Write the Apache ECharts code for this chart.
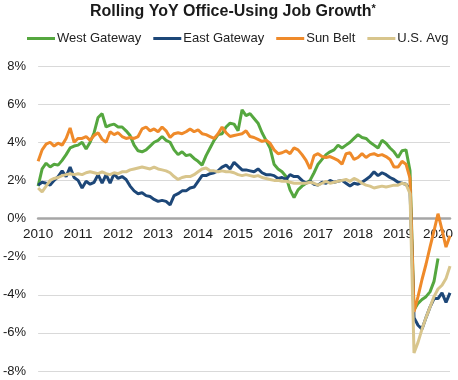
<!DOCTYPE html>
<html>
<head>
<meta charset="utf-8">
<script src="https://cdn.jsdelivr.net/npm/echarts@6/dist/echarts.min.js"></script>
<style>html,body{margin:0;padding:0;background:#fff}#c{width:458px;height:380px}</style>
</head>
<body>
<div id="c"></div>
<script>
const xTickLabels = ['2010','2011','2012','2013','2014','2015','2016','2017','2018','2019','2020'];
const pointsPerLabel = 10;
const yTicks = [-8,-6,-4,-2,0,2,4,6,8];
const seriesNames = ['West Gateway','East Gateway','Sun Belt','U.S. Avg'];

const westGateway = [1.7,2.6,2.9,2.7,2.85,2.8,3.05,3.35,3.7,3.8,3.85,4.0,3.65,4.0,4.5,5.3,5.5,4.8,4.9,4.95,4.8,4.8,4.6,4.35,3.85,3.55,3.5,3.6,3.8,4.0,4.1,4.3,4.1,4.0,3.6,3.35,3.5,3.3,3.35,3.15,3.0,2.8,3.3,3.7,4.1,4.4,4.45,4.8,5.0,4.95,4.6,5.7,5.4,5.5,5.25,5.0,4.5,4.1,3.7,2.85,2.6,2.45,2.2,1.5,1.1,1.5,1.7,1.85,2.0,2.4,2.85,3.1,3.35,3.5,3.6,3.85,3.7,3.85,4.0,4.2,4.4,4.25,4.2,4.0,3.85,3.7,4.1,3.95,3.7,3.5,3.2,3.55,3.6,2.5,-4.8,-4.45,-4.25,-4.1,-3.85,-3.3,-2.1,null,null,null];
const eastGateway = [1.75,1.9,1.85,1.75,2.0,2.2,2.5,2.2,2.7,2.15,2.0,1.6,1.95,1.8,1.9,2.3,1.85,2.3,1.85,2.35,2.1,2.2,2.05,1.7,1.45,1.3,1.35,1.2,1.15,1.0,0.9,0.95,0.9,0.72,1.2,1.3,1.45,1.45,1.6,1.65,1.95,2.25,2.25,2.35,2.4,2.5,2.7,2.8,2.6,2.95,2.75,2.55,2.55,2.5,2.45,2.6,2.4,2.3,2.3,2.25,2.1,2.15,2.05,2.3,2.2,2.2,2.0,1.85,1.95,1.8,1.75,1.9,1.85,2.0,1.9,1.95,2.0,1.85,1.7,1.85,1.8,1.9,2.05,2.2,2.45,2.25,2.4,2.3,2.15,2.05,1.9,1.85,1.8,1.5,-5.2,-5.6,-5.8,-5.2,-4.65,-4.2,-4.2,-3.9,-4.4,-3.9];
const sunBelt = [3.0,3.6,3.9,4.0,3.8,3.95,3.85,4.2,4.75,4.0,4.2,4.2,4.3,4.1,4.35,4.5,4.15,4.0,4.55,4.4,4.5,4.3,4.2,4.25,4.2,4.3,4.7,4.8,4.6,4.7,4.55,4.8,4.6,4.25,4.45,4.5,4.45,4.55,4.7,4.55,4.65,4.45,4.4,4.3,4.2,4.45,4.8,4.5,4.3,4.35,4.4,4.45,4.6,4.3,4.25,4.15,4.05,4.1,3.95,3.6,3.4,3.45,3.55,3.4,3.7,3.6,3.35,3.05,2.6,3.3,3.4,3.25,3.2,3.25,3.15,3.05,2.85,3.4,3.45,3.1,3.2,3.4,3.2,3.35,3.4,3.3,3.35,3.25,3.1,2.7,2.7,3.0,2.85,2.1,-4.9,-4.1,-3.2,-2.4,-1.5,-0.65,0.25,-0.6,-1.5,-0.9];
const usAvg = [1.6,1.4,1.7,2.0,2.1,2.15,2.25,2.3,2.35,2.3,2.35,2.3,2.4,2.45,2.4,2.35,2.45,2.35,2.3,2.4,2.35,2.45,2.45,2.55,2.6,2.65,2.7,2.65,2.6,2.7,2.6,2.55,2.5,2.4,2.2,2.05,2.15,2.2,2.2,2.3,2.45,2.6,2.65,2.5,2.5,2.45,2.5,2.45,2.45,2.4,2.3,2.25,2.3,2.25,2.2,2.25,2.15,2.1,2.05,2.0,2.0,1.95,1.95,1.9,1.85,1.85,1.85,1.85,1.9,1.85,1.75,1.85,1.95,1.85,1.9,1.95,2.0,2.05,1.95,2.1,2.0,1.85,1.75,1.7,1.6,1.65,1.7,1.65,1.7,1.75,1.75,1.85,1.8,1.3,-7.05,-6.5,-5.8,-5.2,-4.65,-4.1,-3.7,-3.5,-3.15,-2.5];

const colors = ['#55a73f','#1d4778','#ef8a2a','#d8c58c'];
const allData = [westGateway, eastGateway, sunBelt, usAvg];

const N = sunBelt.length;
const categories = Array.from({length: N}, (_, i) => {
  const k = Math.floor(i / pointsPerLabel);
  return (xTickLabels[k] || '') + '#' + (i % pointsPerLabel);
});

const gridTop = 66, gridBottom = 9, chartH = 380;
const gridH = chartH - gridTop - gridBottom;
const zeroOffset = -gridH * (0 - yTicks[0]) / (yTicks[yTicks.length - 1] - yTicks[0]);

const chart = echarts.init(document.getElementById('c'), null, {renderer: 'canvas'});
chart.setOption({
  animation: false,
  color: colors,
  title: {
    text: '{a|Rolling YoY Office-Using Job Growth}{b|*}',
    left: 90,
    top: 3,
    padding: 0,
    textStyle: {
      rich: {
        a: {fontFamily: 'Liberation Sans, Arial, sans-serif', fontWeight: 'bold', fontSize: 16, color: '#1a1a1a'},
        b: {fontFamily: 'Liberation Sans, Arial, sans-serif', fontSize: 11, color: '#1a1a1a', verticalAlign: 'top', padding: [0,0,7,0]}
      }
    }
  },
  legend: {
    top: 32,
    left: 27,
    width: 440,
    padding: 0,
    icon: 'rect',
    itemWidth: 28,
    itemHeight: 3,
    itemGap: 12,
    textStyle: {fontFamily: 'Liberation Sans, Arial, sans-serif', fontSize: 13, color: '#222', padding: [0,0,0,-3]},
    data: seriesNames
  },
  grid: {left: 38, right: 8, top: gridTop, bottom: gridBottom, containLabel: false},
  xAxis: {
    type: 'category',
    data: categories,
    boundaryGap: false,
    offset: zeroOffset,
    axisLine: {onZero: false, lineStyle: {color: '#a6a6a6', width: 2.5}},
    axisTick: {show: false},
    axisLabel: {
      interval: (idx) => idx % pointsPerLabel === 0,
      formatter: (v) => v.split('#')[0],
      fontFamily: 'Liberation Sans, Arial, sans-serif',
      fontSize: 13.5,
      color: '#1a1a1a',
      margin: 9
    },
    splitLine: {show: false}
  },
  yAxis: {
    type: 'value',
    min: yTicks[0],
    max: yTicks[yTicks.length - 1],
    interval: 2,
    axisLine: {show: false},
    axisTick: {show: false},
    axisLabel: {
      formatter: '{value}%',
      fontFamily: 'Liberation Sans, Arial, sans-serif',
      fontSize: 13,
      color: '#1a1a1a',
      margin: 12
    },
    splitLine: {lineStyle: {color: '#d9d9d9', width: 1}}
  },
  series: seriesNames.map((name, i) => ({
    name,
    type: 'line',
    data: allData[i],
    showSymbol: false,
    symbol: 'none',
    lineStyle: {width: 3, color: colors[i]},
    itemStyle: {color: colors[i]},
    connectNulls: false,
    z: 2 + i
  }))
});
</script>
</body>
</html>
